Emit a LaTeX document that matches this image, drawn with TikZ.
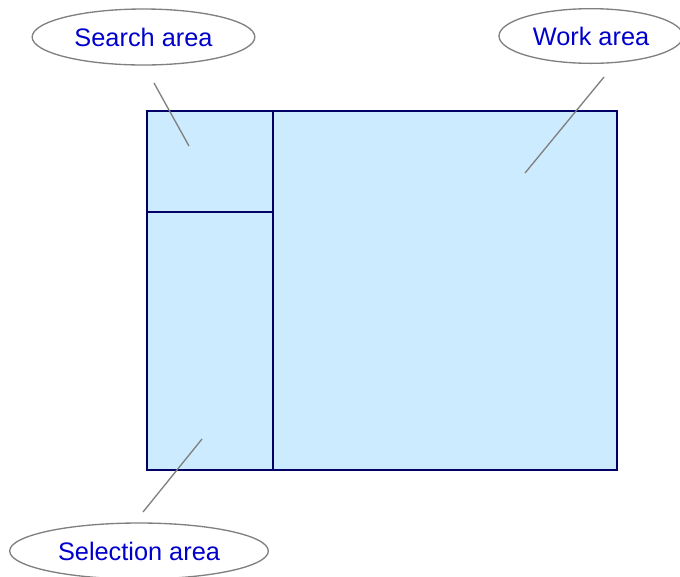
\documentclass[tikz,border=0pt]{standalone}
\usepackage{fontspec}
\setmainfont{Liberation Sans}
\usetikzlibrary{shapes.geometric}
\definecolor{areablue}{HTML}{CCEBFF}
\definecolor{edgenavy}{HTML}{000066}
\definecolor{labelblue}{HTML}{0000CC}
\tikzset{
	callout/.style={ellipse, draw=gray, line width=1pt, text=labelblue, inner sep=0pt,
		font=\fontsize{19}{23}\selectfont},
	pointer/.style={gray, line width=1pt}
}
\begin{document}
\begin{tikzpicture}[x=0.75pt, y=-0.75pt]
			\useasboundingbox (0,0) rectangle (680,576);
			\fill[areablue] (147,111) rectangle (617,470);
			\draw[edgenavy, line width=1.5pt] (147,111) rectangle (617,470);
			\draw[edgenavy, line width=1.5pt] (273,111) -- (273,470);
			\draw[edgenavy, line width=1.5pt] (147,212) -- (273,212);
			\node[callout, minimum width=167pt, minimum height=42pt] (search) at (143.5,37) {Search area};
			\node[callout, minimum width=138pt, minimum height=41pt] (work) at (591,36) {Work area};
			\node[callout, minimum width=194pt, minimum height=42pt] (selection) at (139,551) {Selection area};
			\coordinate (searchtip) at (189,146);
			\coordinate (searchfoot) at (154,83);
			\coordinate (worktip) at (525,173);
			\coordinate (workfoot) at (604,77);
			\coordinate (selectiontip) at (202,439);
			\coordinate (selectionfoot) at (143,512);
			\draw[pointer] (searchfoot) -- (searchtip);
			\draw[pointer] (workfoot) -- (worktip);
			\draw[pointer] (selectionfoot) -- (selectiontip);
\end{tikzpicture}
\end{document}
